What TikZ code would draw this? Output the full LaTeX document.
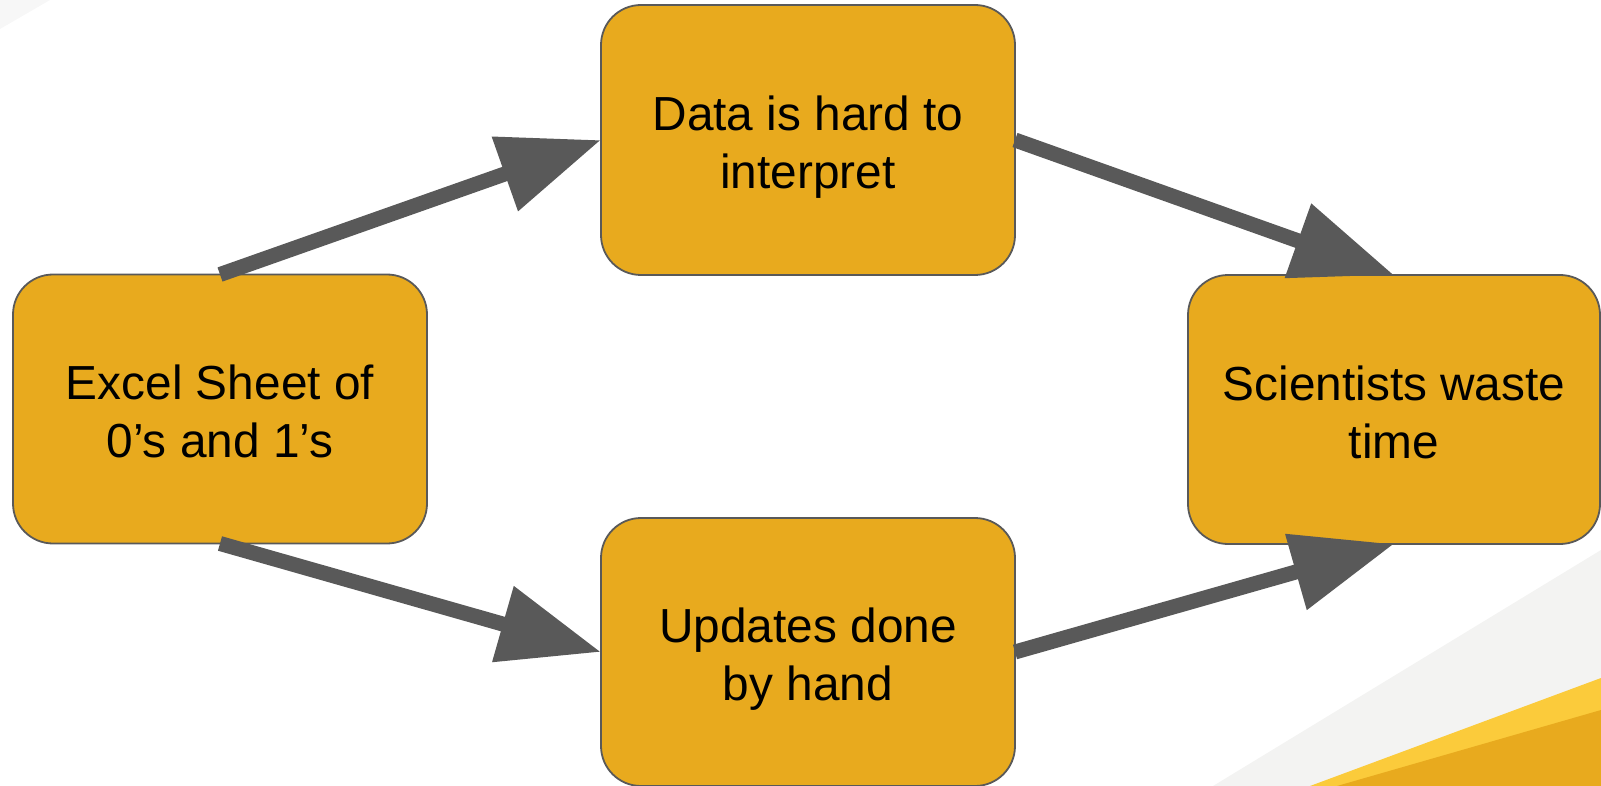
\documentclass[tikz,border=0pt]{standalone}
\usepackage{fontspec}
\setmainfont{Liberation Sans}
\usetikzlibrary{arrows.meta}
\definecolor{boxfill}{HTML}{E8AA1E}
\definecolor{boxline}{HTML}{595959}
\definecolor{arrowgray}{HTML}{595959}
\definecolor{bggray}{HTML}{F3F3F2}
\definecolor{bglight}{HTML}{F7F7F7}
\definecolor{ylight}{HTML}{FBCB3B}
\definecolor{ydark}{HTML}{E8AA1E}
\newcommand\tstr{\rule{0pt}{49pt}}
\newcommand\bstr{\rule[-10pt]{0pt}{10pt}}
\tikzset{
  stepbox/.style={draw=boxline, line width=1.8pt, fill=boxfill, rounded corners=40pt,
    minimum width=414pt, minimum height=269pt, align=center, outer sep=0pt, inner sep=0pt,
    font=\fontsize{47.8}{58}\selectfont, text=black},
  conn/.style={draw=arrowgray, line width=15pt,
    -{Triangle[length=102pt,width=75pt]}, fill=arrowgray}
}
\begin{document}
\begin{tikzpicture}[x=1pt,y=-1pt]
\useasboundingbox (0,0) rectangle (1601,786);
% background decorations
\fill[bglight] (0,0) -- (50,0) -- (0,29) -- cycle;
\fill[bggray] (1213,786) -- (1601,550) -- (1601,786) -- cycle;
\fill[ylight] (1310,786) -- (1601,678) -- (1601,786) -- cycle;
\fill[ydark] (1337,786) -- (1601,710) -- (1601,786) -- cycle;
% boxes
\node[stepbox] (excel) at (220,409) {\tstr Excel Sheet of\\0’s and 1’s\bstr};
\node[stepbox, minimum height=270pt] (data) at (808,140) {\tstr Data is hard to\\interpret\bstr};
\node[stepbox, minimum height=268pt] (upd) at (808,652) {\tstr Updates done\\by hand\bstr};
\node[stepbox, minimum width=412pt] (sci) at (1394,409.5) {\tstr Scientists waste\\time\bstr};
% connectors
\draw[conn] (excel.north) -- (data.west);
\draw[conn] (data.east) -- (sci.north);
\draw[conn] (excel.south) -- (upd.west);
\draw[conn] (upd.east) -- (sci.south);
\end{tikzpicture}
\end{document}
